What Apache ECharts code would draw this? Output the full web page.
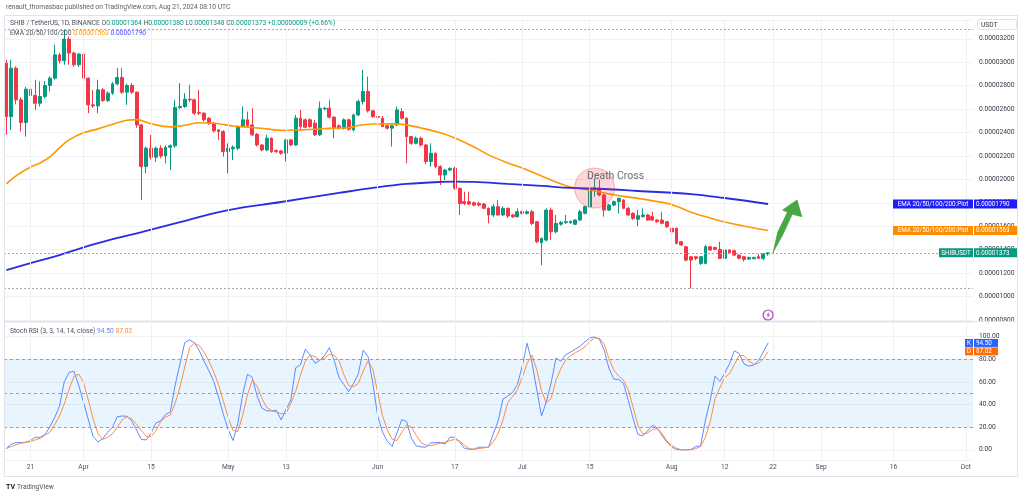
<!DOCTYPE html>
<html>
<head>
<meta charset="utf-8">
<script src="https://cdn.jsdelivr.net/npm/echarts/dist/echarts.min.js"></script>
<style>
  html, body { margin: 0; padding: 0; background: #fff; }
  #chart { width: 1024px; height: 497px; }
</style>
</head>
<body>
<div id="chart"></div>
<script>
// prices are kept in units of 1e-8 USDT
const FONT = 'Roboto, "Liberation Sans", sans-serif'
const FS = 6.7

// one category per day, 2024-03-16 .. 2024-10-02
const dates = []
for (let i = 0; i < 201; i++) {
  dates.push(new Date(Date.UTC(2024, 2, 16 + i)).toISOString().slice(0, 10))
}

const tickDates = ['2024-03-21', '2024-04-01', '2024-04-15', '2024-05-01', '2024-05-13', '2024-06-01', '2024-06-17',
  '2024-07-01', '2024-07-15', '2024-08-01', '2024-08-12', '2024-08-22', '2024-09-01', '2024-09-16', '2024-10-01']
const tickText = ['21', 'Apr', '15', 'May', '13', 'Jun', '17', 'Jul', '15', 'Aug', '12', '22', 'Sep', '16', 'Oct']

// daily candles from 2024-03-16: [open, close, low, high]
const ohlc = [
  [2992, 2536, 2380, 3021], [2536, 2949, 2422, 3021], [2949, 2679, 2640, 2965], [2679, 2485, 2408, 2700], [2485, 2770, 2365, 2790],
  [2770, 2716, 2690, 2800], [2716, 2650, 2593, 2850], [2650, 2707, 2622, 2835], [2707, 2801, 2690, 2840], [2801, 2864, 2750, 2880],
  [2864, 3063, 2850, 3149], [3063, 3012, 2990, 3080], [3012, 3197, 2978, 3277], [3197, 3078, 2978, 3220], [3078, 2978, 2960, 3090],
  [2978, 3069, 2960, 3080], [3069, 2864, 2850, 3075], [2864, 2636, 2565, 2870], [2636, 2627, 2610, 2764], [2627, 2764, 2565, 2850],
  [2764, 2673, 2660, 2780], [2673, 2736, 2660, 2750], [2736, 2815, 2720, 2830], [2815, 2870, 2800, 2949], [2870, 2744, 2730, 2949],
  [2744, 2801, 2636, 2815], [2801, 2744, 2730, 2821], [2744, 2465, 2440, 2750], [2465, 2109, 1824, 2470], [2109, 2266, 2052, 2280],
  [2266, 2189, 2170, 2380], [2189, 2266, 2150, 2280], [2266, 2200, 2180, 2290], [2200, 2274, 2137, 2290], [2274, 2286, 2080, 2300],
  [2286, 2613, 2270, 2679], [2613, 2622, 2600, 2821], [2622, 2684, 2610, 2736], [2684, 2679, 2660, 2807], [2679, 2565, 2550, 2690],
  [2571, 2565, 2550, 2764], [2565, 2508, 2495, 2575], [2522, 2480, 2465, 2530], [2479, 2414, 2400, 2490], [2422, 2408, 2337, 2430],
  [2408, 2237, 2194, 2420], [2237, 2266, 2052, 2308], [2260, 2274, 2166, 2290], [2266, 2451, 2250, 2460], [2451, 2508, 2440, 2622],
  [2508, 2459, 2445, 2579], [2465, 2380, 2370, 2607], [2385, 2294, 2280, 2395], [2294, 2251, 2240, 2300], [2251, 2351, 2240, 2380],
  [2351, 2237, 2225, 2360], [2246, 2237, 2225, 2255], [2243, 2223, 2210, 2250], [2223, 2337, 2152, 2345], [2337, 2294, 2285, 2345],
  [2294, 2522, 2285, 2550], [2522, 2451, 2422, 2593], [2508, 2445, 2435, 2520], [2508, 2451, 2440, 2522], [2479, 2380, 2370, 2508],
  [2380, 2607, 2370, 2664], [2602, 2607, 2590, 2620], [2607, 2531, 2520, 2679], [2531, 2437, 2351, 2540], [2457, 2437, 2425, 2470],
  [2437, 2508, 2425, 2520], [2508, 2428, 2415, 2520], [2422, 2550, 2410, 2560], [2550, 2665, 2540, 2680], [2665, 2750, 2640, 2935],
  [2750, 2585, 2570, 2878], [2585, 2536, 2525, 2595], [2536, 2530, 2520, 2545], [2522, 2451, 2445, 2540], [2457, 2437, 2425, 2465],
  [2437, 2457, 2280, 2465], [2465, 2593, 2455, 2622], [2579, 2522, 2510, 2607], [2522, 2365, 2137, 2530], [2365, 2308, 2295, 2370],
  [2308, 2351, 2300, 2365], [2351, 2294, 2280, 2365], [2294, 2152, 2130, 2300], [2152, 2223, 2109, 2308], [2223, 2109, 2095, 2230],
  [2109, 2038, 1952, 2120], [2038, 2080, 1995, 2090], [2080, 2095, 2070, 2100], [2095, 1924, 1910, 2109], [1924, 1795, 1696, 1930],
  [1810, 1795, 1780, 1895], [1810, 1790, 1780, 1895], [1801, 1781, 1770, 1810], [1795, 1781, 1770, 1810], [1790, 1753, 1745, 1800],
  [1753, 1696, 1624, 1760], [1696, 1767, 1680, 1790], [1767, 1696, 1690, 1824], [1696, 1753, 1690, 1770], [1753, 1687, 1670, 1760],
  [1696, 1681, 1670, 1705], [1681, 1724, 1675, 1753], [1724, 1710, 1700, 1735], [1710, 1724, 1700, 1735], [1724, 1624, 1610, 1740],
  [1638, 1468, 1455, 1645], [1459, 1496, 1268, 1505], [1482, 1738, 1470, 1753], [1738, 1553, 1482, 1760], [1553, 1624, 1540, 1696],
  [1618, 1633, 1605, 1645], [1633, 1638, 1620, 1696], [1630, 1640, 1620, 1650], [1617, 1653, 1610, 1660], [1653, 1724, 1645, 1740],
  [1710, 1767, 1700, 1775], [1767, 1924, 1760, 1940], [1915, 1930, 1852, 2009], [1924, 1867, 1855, 1995], [1867, 1738, 1681, 1875],
  [1738, 1781, 1730, 1790], [1781, 1810, 1770, 1820], [1810, 1838, 1710, 1845], [1824, 1753, 1745, 1830], [1753, 1696, 1690, 1765],
  [1710, 1667, 1655, 1720], [1660, 1690, 1600, 1739], [1682, 1696, 1675, 1753], [1696, 1653, 1645, 1705], [1682, 1653, 1645, 1724],
  [1653, 1639, 1630, 1660], [1653, 1625, 1615, 1724], [1639, 1596, 1585, 1645], [1582, 1553, 1545, 1590], [1582, 1454, 1445, 1590],
  [1468, 1440, 1430, 1475], [1425, 1311, 1300, 1430], [1340, 1311, 1069, 1345], [1340, 1326, 1310, 1345], [1283, 1340, 1270, 1345],
  [1283, 1425, 1275, 1440], [1425, 1397, 1390, 1430], [1420, 1403, 1395, 1425], [1403, 1326, 1320, 1468], [1326, 1397, 1320, 1410],
  [1397, 1374, 1368, 1405], [1391, 1354, 1345, 1400], [1354, 1326, 1320, 1360], [1340, 1317, 1300, 1345], [1320, 1334, 1315, 1340],
  [1323, 1334, 1318, 1340], [1340, 1326, 1320, 1363], [1326, 1364, 1310, 1370], [1364, 1373, 1348, 1380]
]

// EMA readings, day offset from 2024-03-21
const ema50Day = [-5, -3, 0, 2, 4, 6, 8, 11, 14, 17, 20, 22, 25, 29, 32, 35, 39, 42, 46, 49, 52, 56, 59, 63, 66, 68, 71, 75, 78,
  81, 85, 88, 92, 95, 99, 102, 106, 109, 112, 116, 119, 123, 126, 130, 133, 137, 141, 144, 149, 153]
const ema50 = [1961, 2030, 2106, 2140, 2191, 2268, 2337, 2397, 2431, 2470, 2505, 2510, 2475, 2448, 2462, 2483, 2474, 2456, 2443,
  2431, 2418, 2422, 2428, 2437, 2440, 2460, 2472, 2474, 2465, 2439, 2397, 2354, 2277, 2209, 2140, 2097, 2029, 1978, 1935, 1909,
  1884, 1855, 1838, 1810, 1785, 1720, 1670, 1636, 1593, 1563]
const ema200Day = [-5, 0, 6, 14, 23, 31, 41, 52, 64, 71, 78, 85, 88, 92, 99, 106, 112, 119, 126, 137, 144, 153]
const ema200 = [1226, 1285, 1354, 1456, 1550, 1636, 1738, 1807, 1884, 1927, 1961, 1978, 1980, 1978, 1961, 1944, 1927, 1918,
  1901, 1875, 1841, 1790]

// Stoch RSI, daily from 2024-03-16
const stochK = [1.4, 4.9, 6.4, 6.4, 6.7,
  8.2, 11.1, 11.1, 13.5, 20.2, 28.4, 38.4, 60.2, 68.4, 69.6,
  56.9, 42.2, 26.4, 11.7, 7.0, 10.0, 15.5, 19.9, 29.3, 29.9,
  29.6, 25.5, 17.6, 9.1, 8.8, 14.6, 23.7, 25.5, 31.1, 33.7,
  57.2, 76.0, 94.8, 97.2, 94.5, 87.8, 78.4, 69.9, 60.5, 46.7,
  31.4, 17.9, 8.2, 23.2, 48.7, 66.9, 64.0, 47.5, 36.7, 34.6,
  34.3, 34.9, 26.4, 35.8, 44.0, 72.5, 75.1, 89.0, 83.7, 76.6,
  79.0, 83.4, 90.4, 79.0, 63.7, 57.8, 51.4, 58.7, 67.2, 88.1,
  82.5, 59.0, 30.2, 15.8, 7.6, 2.9, 14.6, 26.7, 25.2, 10.2,
  3.5, 2.6, 2.3, 6.1, 6.4, 6.4, 5.2, 11.1, 11.1, 7.0,
  1.4, 0.5, 0.5, 2.3, 2.3, 2.3, 14.3, 25.5, 44.9, 47.5,
  50.8, 57.8, 74.0, 94.2, 77.8, 53.4, 29.9, 42.5, 59.3, 81.0,
  78.4, 84.0, 86.3, 89.0, 91.6, 95.4, 98.9, 99.8, 97.8, 88.1,
  71.9, 62.5, 62.2, 58.7, 43.7, 27.6, 13.5, 12.3, 16.7, 21.7,
  19.3, 12.6, 7.0, 2.6, 0.3, 0, 0, 0.3, 2.9, 3.5,
  26.4, 44.0, 65.2, 60.5, 67.5, 76.3, 87.5, 85.1, 76.0, 74.0,
  74.8, 78.7, 86.6, 94.5]
const stochD = [1.1, 2.9, 4.4, 5.8, 6.7,
  7.3, 8.8, 10.2, 12.9, 15.5, 22.0, 29.9, 40.5, 53.4, 64.9,
  66.9, 59.6, 44.0, 27.0, 14.1, 9.1, 11.1, 14.1, 19.9, 26.4,
  29.3, 27.3, 22.6, 17.0, 12.0, 11.7, 17.0, 24.9, 29.0, 30.8,
  41.1, 55.5, 73.4, 90.4, 94.2, 92.2, 86.3, 78.4, 69.0, 57.8,
  43.1, 28.7, 17.0, 16.1, 30.5, 48.4, 61.6, 56.3, 45.2, 37.5,
  34.6, 33.4, 32.0, 32.0, 41.1, 51.7, 66.0, 78.4, 83.7, 82.5,
  79.3, 81.3, 84.3, 83.7, 78.7, 66.6, 56.9, 55.8, 58.7, 69.6,
  78.7, 71.3, 51.1, 30.5, 17.6, 9.4, 8.2, 15.5, 21.7, 20.2,
  12.9, 6.4, 4.1, 3.5, 4.9, 5.8, 6.7, 8.2, 9.1, 7.9,
  4.1, 1.1, 0.5, 1.1, 1.7, 2.3, 7.0, 14.3, 26.4, 41.7,
  47.2, 53.1, 64.0, 76.3, 83.7, 71.0, 52.2, 41.4, 45.5, 61.6,
  71.6, 79.3, 83.1, 85.7, 88.1, 91.0, 95.7, 98.9, 98.6, 93.4,
  80.4, 70.4, 65.2, 61.6, 53.1, 37.5, 21.7, 13.8, 15.0, 17.9,
  18.8, 14.3, 7.9, 3.8, 1.4, 0, 0, 0, 1.1, 2.9,
  11.1, 24.9, 45.2, 54.9, 64.0, 67.2, 75.4, 83.1, 83.4, 78.4,
  75.7, 76.3, 80.4, 87.02]

// annotations (day offset from 2024-03-21, price)
const crossDay = 117
const crossPrice = 1926
const arrowDay = [153.78, 155.2, 157.09, 155.85, 159.09, 159.65, 158.25, 156.2, 154.25]
const arrowPrice = [1369, 1550, 1719, 1739, 1824, 1682, 1702, 1524, 1376]

const UP = '#089981'
const DOWN = '#f23645'
const EMA50_COLOR = '#ff9800'
const EMA200_COLOR = '#2b2be0'
const K_COLOR = '#5b8bff'
const D_COLOR = '#ff8c42'

const off = 5 // index of 2024-03-21 in dates
const fmt = v => (v / 1e8).toFixed(8)
const last = ohlc[ohlc.length - 1]
const prevClose = ohlc[ohlc.length - 2][1]

const chart = echarts.init(document.getElementById('chart'))

const vGrid = {
  silent: true,
  symbol: 'none',
  label: { show: false },
  lineStyle: { color: '#eef0f4', type: 'solid', width: 1 },
  data: tickDates.map(t => ({ xAxis: t }))
}

const option = {
  animation: false,
  backgroundColor: '#fff',
  textStyle: { fontFamily: FONT },
  grid: [
    { left: 4, right: 51, top: 20, height: 300, containLabel: false, outerBoundsMode: 'none' },
    { left: 4, right: 51, top: 322, height: 138, containLabel: false, outerBoundsMode: 'none' }
  ],
  xAxis: [
    {
      type: 'category', gridIndex: 0, data: dates, boundaryGap: true,
      axisLine: { show: false }, axisTick: { show: false }, axisLabel: { show: false }, splitLine: { show: false }
    },
    {
      type: 'category', gridIndex: 1, data: dates, boundaryGap: true,
      axisLine: { show: false }, axisTick: { show: false }, splitLine: { show: false },
      axisLabel: {
        interval: (i, v) => tickDates.includes(v),
        formatter: v => tickText[tickDates.indexOf(v)],
        fontSize: FS, color: '#50535e', margin: 4, fontFamily: FONT
      }
    }
  ],
  yAxis: [
    {
      type: 'value', gridIndex: 0, position: 'right', min: 800, max: 3360, interval: 200,
      axisLine: { show: false }, axisTick: { show: false },
      axisLabel: { formatter: fmt, fontSize: FS, color: '#363a45', margin: 6, showMaxLabel: false, fontFamily: FONT },
      splitLine: { lineStyle: { color: '#f1f2f6' } }
    },
    {
      type: 'value', gridIndex: 1, position: 'right', min: -9, max: 113, splitNumber: 6,
      axisLine: { show: false }, axisTick: { show: false },
      axisLabel: {
        formatter: v => v.toFixed(2), fontSize: FS, color: '#363a45', margin: 6,
        showMinLabel: false, showMaxLabel: false, fontFamily: FONT
      },
      splitLine: { lineStyle: { color: '#f1f2f6' } }
    }
  ],
  series: [
    { type: 'line', xAxisIndex: 0, yAxisIndex: 0, data: [], z: 0, markLine: vGrid },
    { type: 'line', xAxisIndex: 1, yAxisIndex: 1, data: [], z: 0, markLine: vGrid },
    {
      type: 'line', xAxisIndex: 1, yAxisIndex: 1, data: [], z: 1,
      markArea: { silent: true, itemStyle: { color: 'rgba(33,150,243,0.1)' }, data: [[{ yAxis: 20 }, { yAxis: 80 }]] },
      markLine: {
        silent: true, symbol: 'none', label: { show: false },
        lineStyle: { color: '#9a9da6', type: [3, 3], width: 1 },
        data: [{ yAxis: 80 }, { yAxis: 50 }, { yAxis: 20 }]
      }
    },
    {
      name: 'SHIBUSDT',
      type: 'candlestick', xAxisIndex: 0, yAxisIndex: 0, z: 3,
      barWidth: '70%',
      data: ohlc,
      itemStyle: { color: UP, color0: DOWN, borderColor: UP, borderColor0: DOWN, borderWidth: 1 },
      markLine: {
        silent: true, symbol: 'none', label: { show: false },
        data: [
          { type: 'max', valueDim: 'highest', lineStyle: { color: '#a3a6af', type: [2, 2], width: 1 } },
          { type: 'min', valueDim: 'lowest', lineStyle: { color: '#a3a6af', type: [2, 2], width: 1 } },
          { yAxis: last[1], lineStyle: { color: '#5fc3b3', type: [2, 2], width: 1 } }
        ]
      }
    },
    {
      name: 'EMA 50', type: 'line', xAxisIndex: 0, yAxisIndex: 0, z: 4,
      data: ema50Day.map((d, i) => [dates[d + off], ema50[i]]),
      symbol: 'none', smooth: 0.4,
      lineStyle: { color: EMA50_COLOR, width: 1.6 }
    },
    {
      name: 'EMA 200', type: 'line', xAxisIndex: 0, yAxisIndex: 0, z: 4,
      data: ema200Day.map((d, i) => [dates[d + off], ema200[i]]),
      symbol: 'none', smooth: 0.4,
      lineStyle: { color: EMA200_COLOR, width: 1.8 }
    },
    {
      type: 'scatter', xAxisIndex: 0, yAxisIndex: 0, z: 6,
      data: [[dates[crossDay + off], crossPrice]],
      symbol: 'circle', symbolSize: 40,
      itemStyle: { color: 'rgba(242,54,69,0.24)', borderColor: 'rgba(242,54,69,0.45)', borderWidth: 1 },
      label: {
        show: true, formatter: 'Death Cross', position: 'inside', offset: [21, -12],
        color: '#434651', fontSize: 10.5, fontFamily: FONT
      }
    },
    {
      type: 'custom', xAxisIndex: 0, yAxisIndex: 0, z: 7,
      data: [[arrowDay[0] + off, arrowPrice[0]]],
      renderItem: (params, api) => ({
        type: 'polygon',
        shape: { points: arrowDay.map((d, i) => api.coord([d + off, arrowPrice[i]])) },
        style: { fill: '#45a845', stroke: '#3c9a3c', lineWidth: 0.6 }
      })
    },
    {
      name: 'K', type: 'line', xAxisIndex: 1, yAxisIndex: 1, z: 4,
      data: stochK, symbol: 'none',
      lineStyle: { color: K_COLOR, width: 1 }
    },
    {
      name: 'D', type: 'line', xAxisIndex: 1, yAxisIndex: 1, z: 4,
      data: stochD, symbol: 'none',
      lineStyle: { color: D_COLOR, width: 1 }
    }
  ]
}

chart.setOption(option)

// right-side tags, header texts and frame
const yPix = (v, i) => chart.convertToPixel({ yAxisIndex: i }, v)
const xPix = idx => chart.convertToPixel({ xAxisIndex: 0 }, dates[idx])

function txt(x, y, text, fill, size, align, weight) {
  return {
    type: 'text', x, y, z: 100,
    style: {
      text, fill, font: (weight || '') + ' ' + (size || FS) + 'px ' + FONT,
      align: align || 'left', verticalAlign: 'middle',
      textAlign: align || 'left', textVerticalAlign: 'middle'
    }
  }
}

function tag(x0, x1, y, h, fill, text, align) {
  const cx = align === 'center' ? (x0 + x1) / 2 : x0 + 2
  return [
    { type: 'rect', z: 99, shape: { x: x0, y: y - h / 2, width: x1 - x0, height: h }, style: { fill } },
    txt(cx, y + 0.3, text, '#fff', 6.3, align)
  ]
}

function richLine(x, y, text, rich) {
  return {
    type: 'text', x, y, z: 100,
    style: {
      text, rich, fill: '#50535e', font: FS + 'px ' + FONT,
      verticalAlign: 'middle', textVerticalAlign: 'middle'
    }
  }
}
const colored = c => ({ fill: c, color: c, font: FS + 'px ' + FONT })

const ema50Last = ema50[ema50.length - 1]
const ema200Last = ema200[ema200.length - 1]
const kLast = stochK[stochK.length - 1]
const dLast = stochD[stochD.length - 1]
const yB = yPix(ema200Last, 0)
const yO = yPix(ema50Last, 0)
const yG = yPix(last[1], 0)
const yK = yPix(kLast, 1)
const yD = yPix(dLast, 1)
const iconX = xPix(ohlc.length - 1)
const change = last[1] - prevClose

const graphic = [
  { type: 'rect', z: 98, shape: { x: 4.5, y: 15.5, width: 1013, height: 461 }, style: { fill: 'none', stroke: '#e0e3eb', lineWidth: 1 } },
  { type: 'line', z: 98, shape: { x1: 4.5, y1: 321.5, x2: 1017.5, y2: 321.5 }, style: { stroke: '#e0e3eb', lineWidth: 1 } },
  txt(6, 7, 'renault_thomasbac published on TradingView.com, Aug 21, 2024 08:10 UTC', '#5d606b', 6.7),
  richLine(10, 23.5,
    'SHIB / TetherUS, 1D, BINANCE O{g|' + fmt(last[0]) + '} H{g|' + fmt(last[3]) + '} L{g|' + fmt(last[2]) +
    '} C{g|' + fmt(last[1]) + '} {g|+' + fmt(change) + ' (+' + (change / prevClose * 100).toFixed(2) + '%)}',
    { g: colored(UP) }),
  richLine(10, 33, 'EMA 20/50/100/200 {o|' + fmt(ema50Last) + '} {b|' + fmt(ema200Last) + '}',
    { o: colored(EMA50_COLOR), b: colored('#4747ff') }),
  richLine(10, 331, 'Stoch RSI (3, 3, 14, 14, close) {k|' + kLast.toFixed(2) + '} {d|' + dLast.toFixed(2) + '}',
    { k: colored(K_COLOR), d: colored(D_COLOR) }),
  { type: 'rect', z: 99, shape: { x: 977.5, y: 19.5, width: 39, height: 10, r: 1.5 }, style: { fill: '#fff', stroke: '#e0e3eb', lineWidth: 1 } },
  txt(981, 25, 'USDT', '#363a45', FS),
  ...tag(893, 973, yB, 9, '#1f1ff5', 'EMA 20/50/100/200:Plot', 'center'),
  ...tag(974, 1017, yB, 9, '#1f1ff5', fmt(ema200Last)),
  ...tag(893, 973, yO, 9, '#ff8c00', 'EMA 20/50/100/200:Plot', 'center'),
  ...tag(974, 1017, yO, 9, '#ff8c00', fmt(ema50Last)),
  ...tag(939, 973, yG, 9, UP, 'SHIBUSDT', 'center'),
  ...tag(974, 1017, yG, 9, UP, fmt(last[1])),
  ...tag(965, 973, yK, 8, '#2962ff', 'K', 'center'),
  ...tag(974, 998, yK, 8, '#2962ff', kLast.toFixed(2)),
  ...tag(965, 973, yD, 8, '#ff6d00', 'D', 'center'),
  ...tag(974, 998, yD, 8, '#ff6d00', dLast.toFixed(2)),
  { type: 'circle', z: 100, shape: { cx: iconX, cy: 315, r: 5 }, style: { fill: '#fff', stroke: '#ab47bc', lineWidth: 1.2 } },
  {
    type: 'polygon', z: 101,
    shape: { points: [[iconX + 1.4, 311.4], [iconX - 1.8, 315.5], [iconX + 0.1, 315.5], [iconX - 1.2, 318.6], [iconX + 2, 314.4], [iconX + 0.1, 314.4]] },
    style: { fill: '#ab47bc' }
  },
  txt(6, 487, 'TV', '#131722', 7, 'left', 'bold'),
  txt(17, 487, 'TradingView', '#50535e', FS)
]

chart.setOption({ graphic })
</script>
</body>
</html>
